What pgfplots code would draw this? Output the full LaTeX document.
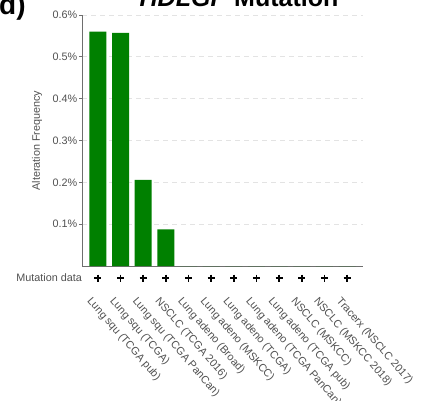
\documentclass[border=0pt]{standalone}
\usepackage{pgfplots}
\pgfplotsset{compat=1.18}
\usepackage{fontspec}
\setmainfont{Liberation Sans}
\definecolor{bargreen}{RGB}{0,128,0}
\definecolor{axgray}{RGB}{110,110,110}
\definecolor{txtgray}{RGB}{80,80,80}
\begin{document}
\begin{tikzpicture}[x=1pt,y=1pt]
\begin{axis}[
  at={(82pt,134pt)}, anchor=south west,
  scale only axis, width=281pt, height=251pt,
  xmin=-0.7, xmax=11.7, ymin=0, ymax=0.6,
  axis x line*=bottom, axis y line*=left,
  axis line style={axgray, line width=0.9pt},
  clip=false,
  ytick={0.1,0.2,0.3,0.4,0.5,0.6},
  yticklabels={0.1\%,0.2\%,0.3\%,0.4\%,0.5\%,0.6\%},
  tick align=outside, major tick length=3pt,
  ytick style={axgray, line width=0.8pt},
  yticklabel style={font=\fontsize{10.8}{12}\selectfont, text=txtgray, inner sep=1.5pt},
  xtick={0,...,11},
  xtick style={draw=none},
  xticklabels={Lung squ (TCGA pub),Lung squ (TCGA),Lung squ (TCGA PanCan),NSCLC (TCGA 2016),Lung adeno (Broad),Lung adeno (MSKCC),Lung adeno (TCGA),Lung adeno (TCGA PanCan),Lung adeno (TCGA pub),NSCLC (MSKCC),NSCLC (MSKCC 2018),Tracerx (NSCLC 2017)},
  xticklabel style={xshift=-5pt, yshift=-27pt, rotate=-49, anchor=north west, inner sep=0pt, font=\fontsize{10.8}{12}\selectfont, text=txtgray},
  ymajorgrids,
  grid style={gray!22, line width=0.8pt, dash pattern=on 5pt off 4pt},
  ylabel={Alteration Frequency},
  ylabel style={at={(axis description cs:-0.16,0.5)}, anchor=center, rotate=0, font=\fontsize{10.8}{12}\selectfont, text=txtgray},
]
\addplot[ybar, bar width=17pt, fill=bargreen, draw=none] coordinates {
(0,0.5605) (1,0.557) (2,0.2057) (3,0.0878) (4,0) (5,0) (6,0) (7,0) (8,0) (9,0) (10,0) (11,0)};
\addplot[only marks, mark=+, mark size=3.5pt, mark options={line width=1.8pt, black}] coordinates {
(0,-0.0287) (1,-0.0287) (2,-0.0287) (3,-0.0287) (4,-0.0287) (5,-0.0287) (6,-0.0287) (7,-0.0287) (8,-0.0287) (9,-0.0287) (10,-0.0287) (11,-0.0287)};
\node[anchor=east, font=\fontsize{10.8}{12}\selectfont, text=txtgray, inner sep=0pt] at (axis cs:-0.7,-0.0287) {Mutation data\hspace{2pt}};
\end{axis}
\node[anchor=base, font=\bfseries\fontsize{25}{28}\selectfont] at (239pt,393.5pt) {\textit{HDLGP} Mutation};
\node[anchor=base west, inner sep=0pt, font=\bfseries\fontsize{28}{32}\selectfont] at (-1pt,385pt) {d)};
\pgfresetboundingbox
\useasboundingbox (0,0) rectangle (422pt,400pt);
\end{tikzpicture}
\end{document}
